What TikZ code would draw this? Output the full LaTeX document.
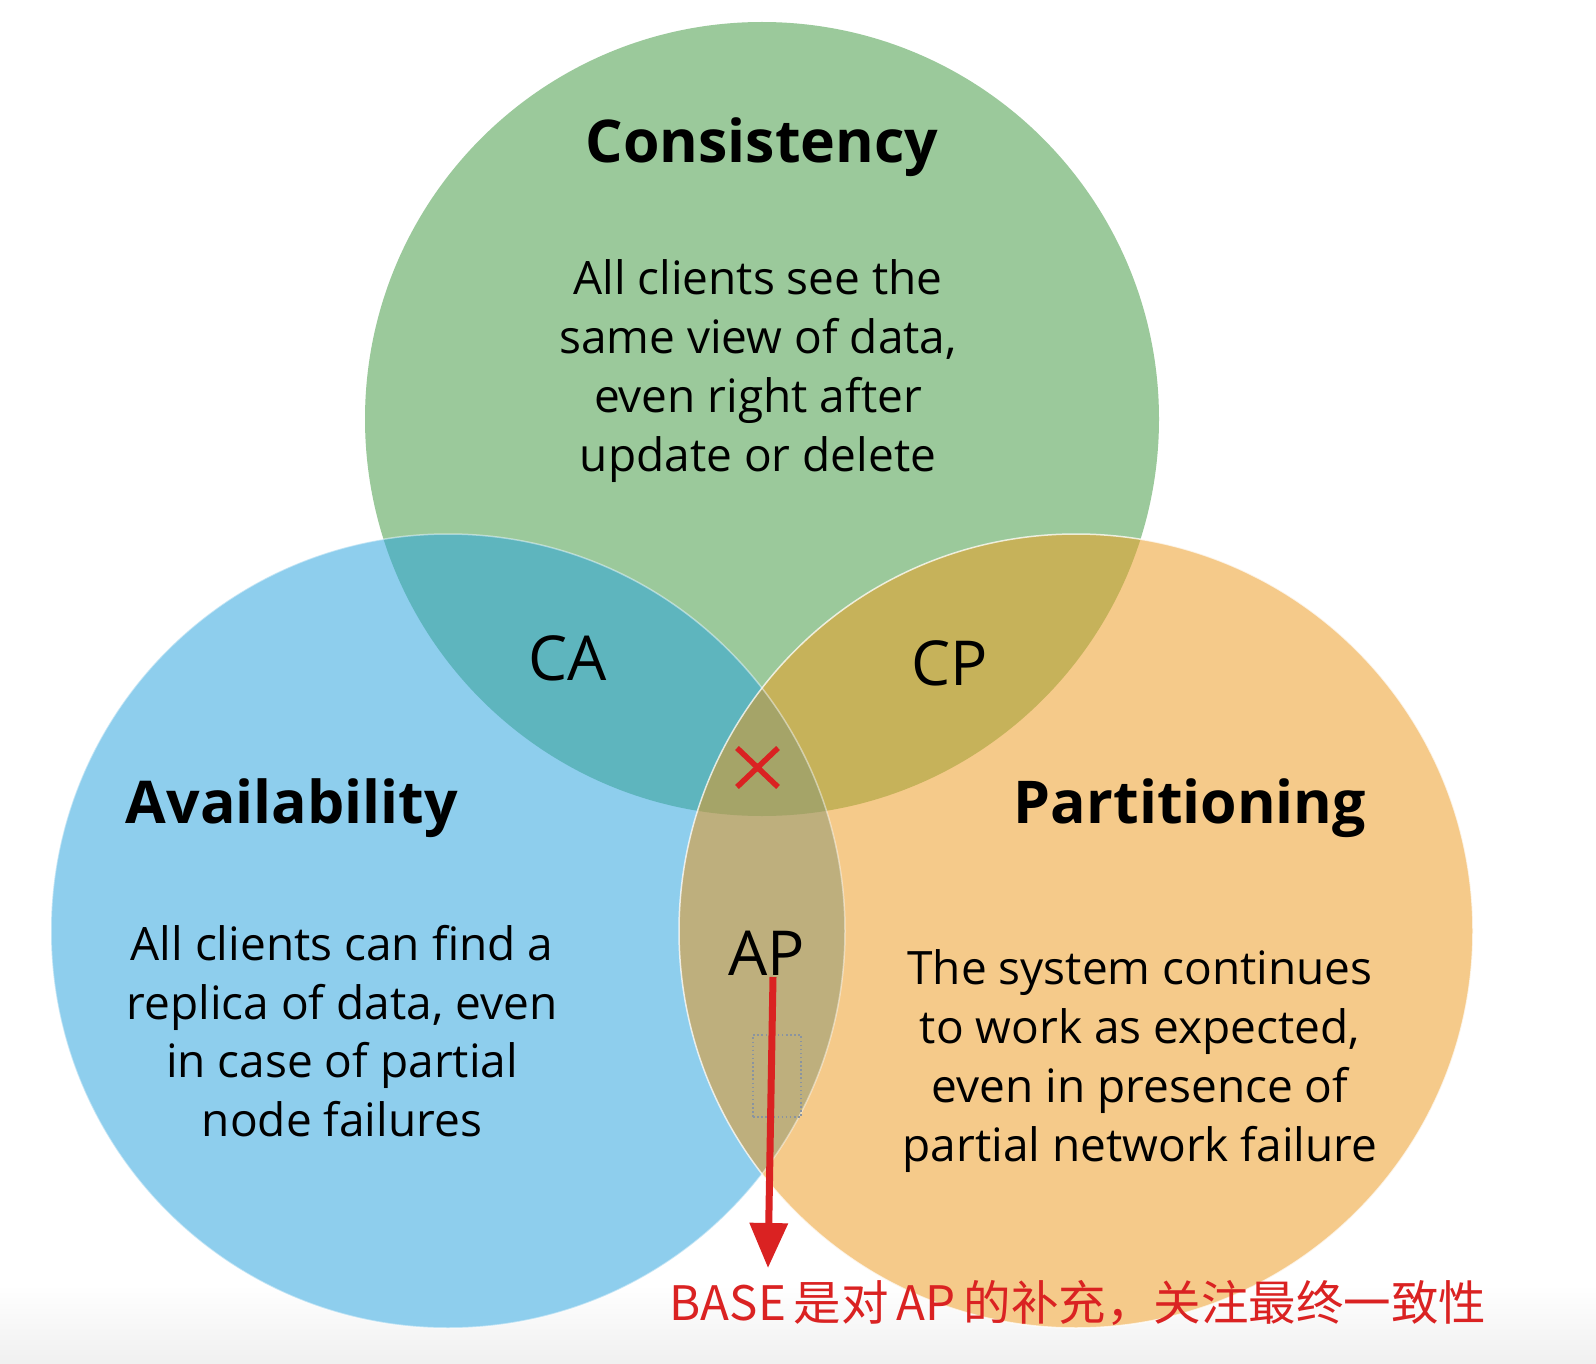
\documentclass[tikz,border=0pt]{standalone}
\usepackage{fontspec}
\setmainfont{Open Sans}
\newfontfamily\cjkfont{Noto Sans CJK SC}
\usetikzlibrary{arrows.meta}
\definecolor{cgreen}{HTML}{9BC99B}
\definecolor{cblue}{HTML}{8ECEED}
\definecolor{corange}{HTML}{F5CA8A}
\definecolor{colca}{HTML}{5EB5BE}
\definecolor{colcp}{HTML}{C6B25A}
\definecolor{colap}{HTML}{BEAF7D}
\definecolor{colmid}{HTML}{A5A468}
\definecolor{cred}{HTML}{DA2222}
\definecolor{cdots}{HTML}{8A94A0}
\begin{document}
\begin{tikzpicture}[x=1pt,y=-1pt,
  title/.style={font=\fontsize{59}{72}\selectfont\bfseries, anchor=base, inner sep=0pt},
  body/.style={font=\fontsize{46}{58.7}\selectfont, align=center, inner sep=0pt},
  pairlbl/.style={font=\fontsize{62}{70}\selectfont, anchor=base, inner sep=0pt},
  rim/.style={draw=white, line width=1.5pt}]
\useasboundingbox (0,0) rectangle (1596,1364);
\fill[white] (0,0) rectangle (1596,1364);
\shade[top color=white, bottom color=black!6] (0,1285) rectangle (1596,1364);
% circles
\def\rad{397}
\coordinate (cg) at (762,419);
\coordinate (cb) at (448,931);
\coordinate (co) at (1076,931);
\fill[cgreen] (cg) circle[radius=\rad];
\fill[cblue] (cb) circle[radius=\rad];
\fill[corange] (co) circle[radius=\rad];
\begin{scope}
  \clip (cg) circle[radius=\rad];
  \fill[colca] (cb) circle[radius=\rad];
  \fill[colcp] (co) circle[radius=\rad];
\end{scope}
\begin{scope}
  \clip (cb) circle[radius=\rad];
  \fill[colap] (co) circle[radius=\rad];
  \clip (cg) circle[radius=\rad];
  \fill[colmid] (co) circle[radius=\rad];
\end{scope}
\draw[rim, draw opacity=0.45] (cb) circle[radius=\rad];
\draw[rim, draw opacity=0.75] (co) circle[radius=\rad];
% titles
\node[title] (tc) at (762,163) {Consistency};
\node[title] (ta) at (292,823) {Availability};
\node[title] (tp) at (1190,823) {Partitioning};
% bodies
\node[body] (bc) at (758,371) {All clients see the\\same view of data,\\even right after\\update or delete};
\node[body] (ba) at (342,1031) {All clients can find a\\replica of data, even\\in case of partial\\node failures};
\node[body] (bp) at (1140,1061) {The system continues\\to work as expected,\\even in presence of\\partial network failure};
% pair labels
\node[pairlbl] (ca) at (568,680) {CA};
\node[pairlbl] (cp) at (950,685) {CP};
\node[pairlbl] (ap) at (767,975) {AP};
% red cross
\coordinate (x1) at (737,748);
\coordinate (x2) at (778,787);
\coordinate (x3) at (778,748);
\coordinate (x4) at (737,787);
\draw[cred, line width=5.5pt] (x1) -- (x2) (x3) -- (x4);
% dotted box
\node[draw=cdots, line width=1.3pt, dash pattern=on 1.5pt off 2.6pt, minimum width=48pt, minimum height=82pt, inner sep=0pt] (dbox) at (777,1076) {};
% note and arrow
\node[font=\cjkfont\fontsize{47.5}{56}\selectfont, text=cred, anchor=base, inner sep=0pt] (note) at (1078,1320) {BASE\,是对\,AP\,的补充，关注最终一致性};
\coordinate (arrs) at (773,977);
\coordinate (arre) at (768,1268);
\draw[cred, line width=7pt, -{Triangle[length=45pt,width=37pt]}] (arrs) -- (arre);
\end{tikzpicture}
\end{document}
